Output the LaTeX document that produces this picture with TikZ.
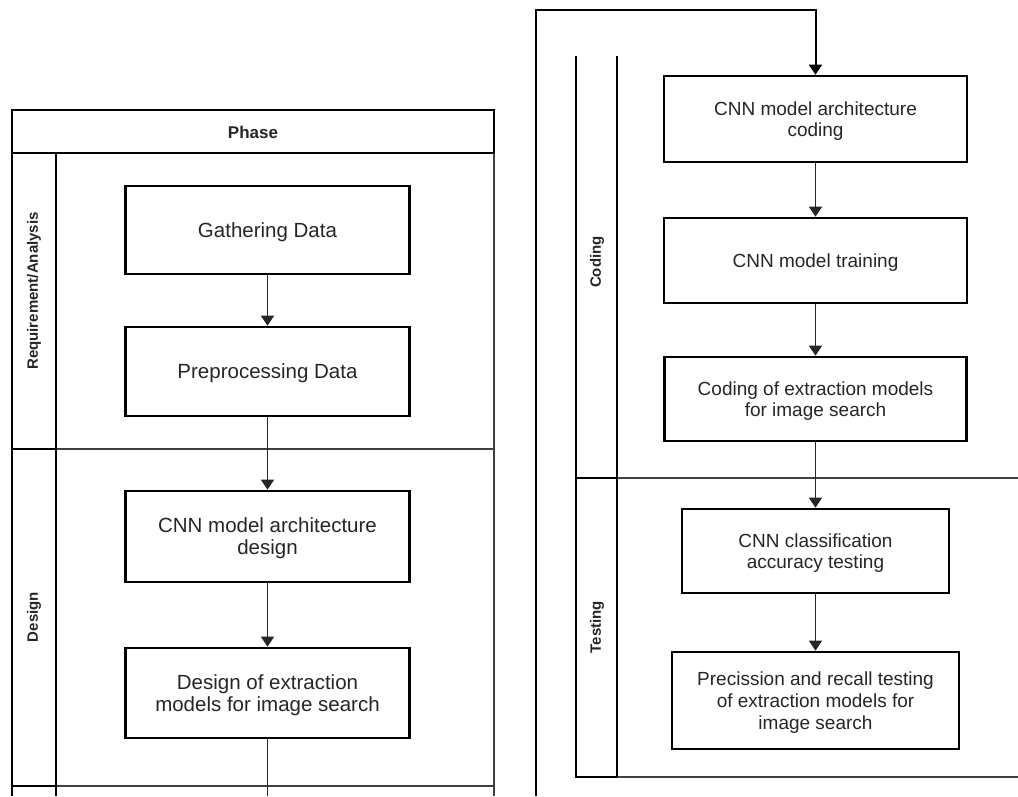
\documentclass[tikz,border=0pt]{standalone}
\usepackage{fontspec}
\setmainfont{Liberation Sans}
\usetikzlibrary{arrows.meta}
\tikzset{
  box/.style={draw=black, line width=2.6pt, fill=white, align=center, inner sep=0pt, text=black!85, text depth=0pt},
  lbox/.style={box, font=\fontsize{20.5}{22}\selectfont},
  rbox/.style={box, font=\fontsize{19}{21.7}\selectfont},
  conn/.style={draw=black!85, line width=1.3pt},
  tip/.style={-{Triangle[width=13pt,length=10pt]}},
  arr/.style={conn, tip},
  lane/.style={draw=black!75, line width=1.4pt},
  col/.style={draw=black, line width=2.4pt},
  lanelabel/.style={font=\bfseries\fontsize{15}{17}\selectfont, rotate=90, text=black!85}
}
\begin{document}
\begin{tikzpicture}[x=1pt,y=-1pt]
\useasboundingbox (0,0) rectangle (1018,796);
\fill[white] (0,0) rectangle (1018,796);

% ---------------- left panel: lanes ----------------
\draw[lane] (56,449) -- (494,449);
\draw[lane] (56,786) -- (494,786);
\draw[col] (12,796) -- (12,110) -- (494,110) -- (494,153) -- (12,153);
\draw[lane] (494,153) -- (494,796);
\draw[col] (56,153) -- (56,796);
\draw[col] (12,449) -- (56,449);
\draw[col] (12,786) -- (56,786);
\node[font=\bfseries\fontsize{17}{19}\selectfont, text=black!85] (phase) at (253,132) {Phase};
\node[lanelabel] (lreq) at (34,291) {Requirement/Analysis};
\node[lanelabel] (ldes) at (34,617) {Design};

% ---------------- right panel: lanes ----------------
\draw[lane] (576,478) -- (1018,478);
\draw[lane] (617,777) -- (1018,777);
\draw[col] (576,56) -- (576,777) -- (617,777);
\draw[col] (617,56) -- (617,777);
\draw[col] (576,478) -- (617,478);
\node[lanelabel] (lcod) at (597,262) {Coding};
\node[lanelabel] (ltst) at (597,627) {Testing};

% ---------------- left boxes ----------------
\node[lbox, minimum width=284pt, minimum height=88pt] (gather) at (267.5,230) {Gathering Data};
\node[lbox, minimum width=284pt, minimum height=89pt] (prep) at (267.5,371.5) {Preprocessing Data};
\node[lbox, minimum width=284pt, minimum height=91pt] (cnnd) at (267.5,536.5) {CNN model architecture\\design};
\node[lbox, minimum width=284pt, minimum height=90pt] (dext) at (267.5,693) {Design of extraction\\models for image search};

% ---------------- right boxes ----------------
\node[rbox, minimum width=303pt, minimum height=86pt] (cnnc) at (815.5,119) {CNN model architecture\\coding};
\node[rbox, minimum width=303pt, minimum height=85pt] (train) at (815.5,260.5) {CNN model training};
\node[rbox, minimum width=302pt, minimum height=84pt] (cext) at (815.5,399) {Coding of extraction models\\for image search};
\node[rbox, minimum width=267pt, minimum height=84pt] (cls) at (815.5,551) {CNN classification\\accuracy testing};
\node[rbox, minimum width=287pt, minimum height=97pt] (prec) at (815.5,700.5) {Precission and recall testing\\of extraction models for\\image search};

% ---------------- connectors ----------------
\coordinate (lout) at (267.5,796);
\coordinate (rin) at (536,796);
\coordinate (rtop) at (536,10);
\coordinate (rtop2) at (815.5,10);

\draw[arr] (gather) -- (prep);
\draw[arr] (prep) -- (cnnd);
\draw[arr] (cnnd) -- (dext);
\draw[conn] (dext) -- (lout);

\draw[col, line width=2pt, tip] (rin) -- (rtop) -- (rtop2) -- (cnnc.north);
\draw[arr] (cnnc) -- (train);
\draw[arr] (train) -- (cext);
\draw[arr] (cext) -- (cls);
\draw[arr] (cls) -- (prec);
\end{tikzpicture}
\end{document}
